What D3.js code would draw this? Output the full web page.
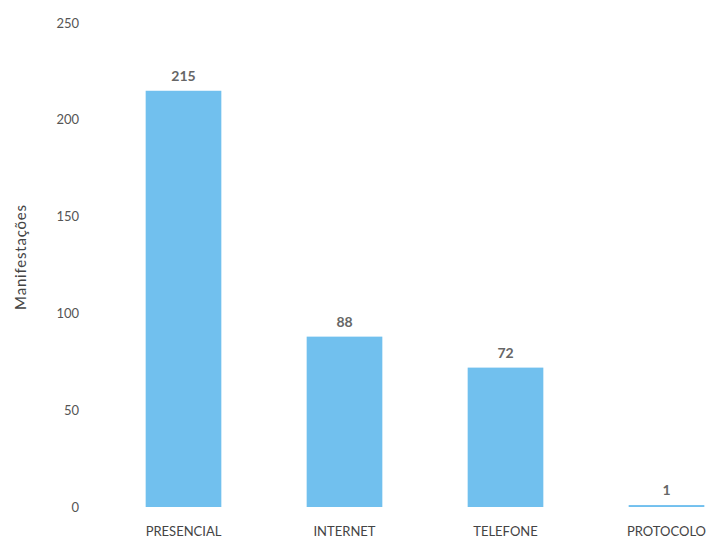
<!DOCTYPE html>
<html>
<head>
<meta charset="utf-8">
<script src="https://cdn.jsdelivr.net/npm/d3@7"></script>
<style>
  body { margin: 0; background: #fff; }
  text { font-family: Lato, "Open Sans", sans-serif; }
</style>
</head>
<body>
<svg width="724" height="544"></svg>
<script>
// data
var categories = ["PRESENCIAL", "INTERNET", "TELEFONE", "PROTOCOLO"];
var values = [215, 88, 72, 1];
var yTicks = [0, 50, 100, 150, 200, 250];

var svg = d3.select("svg");

var x = d3.scaleBand().domain(categories).range([103, 747])
    .paddingInner(0.53).paddingOuter(0.265);
var y = d3.scaleLinear().domain([0, 250]).range([507, 23]);

// y axis labels (no line)
svg.append("g").selectAll("text")
  .data(yTicks)
  .enter().append("text")
  .attr("x", 79)
  .attr("y", function(d){ return y(d); })
  .attr("dy", "0.35em")
  .attr("text-anchor", "end")
  .attr("font-size", 13)
  .attr("fill", "#555")
  .text(function(d){ return d; });

svg.append("text")
  .attr("transform", "translate(26," + 257 + ") rotate(-90)")
  .attr("text-anchor", "middle")
  .attr("font-size", 15)
  .attr("letter-spacing", 0.8)
  .attr("fill", "#444")
  .text("Manifestações");

var data = categories.map(function(c, i){ return {cat: c, val: values[i]}; });

svg.append("g").selectAll("rect")
  .data(data)
  .enter().append("rect")
  .attr("x", function(d){ return x(d.cat); })
  .attr("y", function(d){ return y(d.val); })
  .attr("width", x.bandwidth())
  .attr("height", function(d){ return y(0) - y(d.val); })
  .attr("fill", "#71c0ee");

svg.append("g").selectAll("text")
  .data(data)
  .enter().append("text")
  .attr("x", function(d){ return x(d.cat) + x.bandwidth() / 2; })
  .attr("y", function(d){ return y(d.val) - 10; })
  .attr("text-anchor", "middle")
  .attr("font-size", 14)
  .attr("font-weight", "bold")
  .attr("fill", "#666")
  .text(function(d){ return d.val; });

svg.append("g").selectAll("text")
  .data(categories)
  .enter().append("text")
  .attr("x", function(d){ return x(d) + x.bandwidth() / 2; })
  .attr("y", 536)
  .attr("text-anchor", "middle")
  .attr("font-size", 13)
  .attr("fill", "#444")
  .text(function(d){ return d; });
</script>
</body>
</html>
